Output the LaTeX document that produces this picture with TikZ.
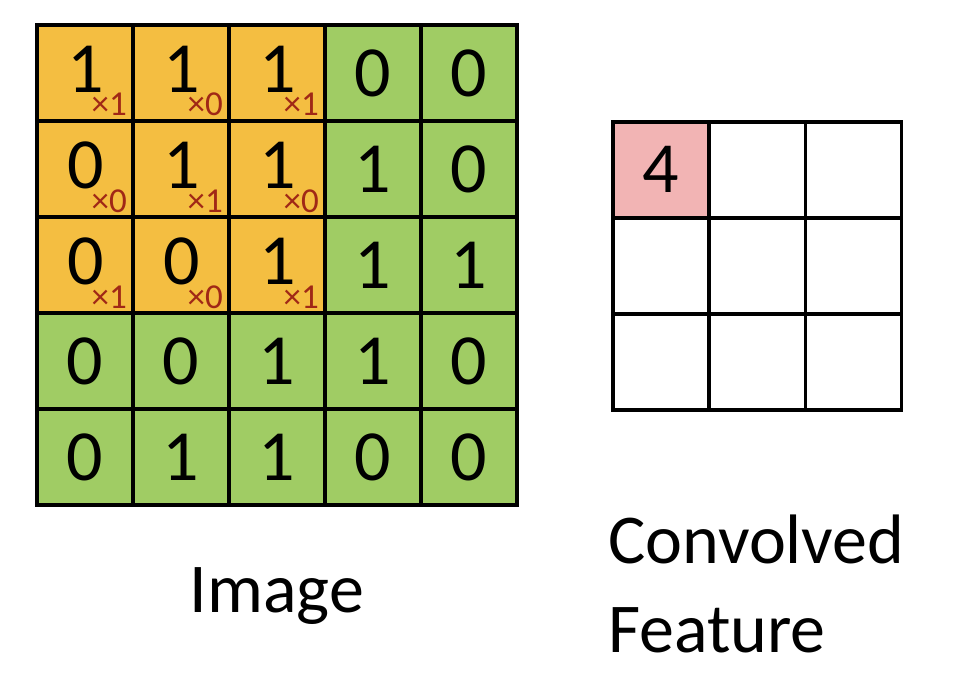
\documentclass[tikz,border=0pt]{standalone}
\usepackage{fontspec}
\setmainfont{Carlito}
\usetikzlibrary{calc}
\definecolor{korange}{RGB}{244,190,65}
\definecolor{kgreen}{RGB}{160,204,100}
\definecolor{kpink}{RGB}{242,180,180}
\definecolor{kred}{RGB}{160,40,22}
\tikzset{
  cellbox/.style={draw=black, line width=3.5pt, minimum size=96pt, inner sep=0pt, outer sep=0pt},
  digit/.style={inner sep=0pt, font=\fontsize{72}{72}\selectfont},
  kernelmark/.style={anchor=base east, inner sep=0pt, text=kred, font=\fontsize{35}{35}\selectfont},
  caption/.style={inner sep=0pt, font=\fontsize{70}{70}\selectfont}
}
\begin{document}
\begin{tikzpicture}[x=1pt,y=-1pt]
\useasboundingbox (0,0) rectangle (974,682);
\fill[white] (0,0) rectangle (974,682);
% image grid values (row by row)
\def\vals{{{1,1,1,0,0},{0,1,1,1,0},{0,0,1,1,1},{0,0,1,1,0},{0,1,1,0,0}}}
\def\kern{{{1,0,1},{0,1,0},{1,0,1}}}
\foreach \r in {0,...,4}{
  \foreach \c in {0,...,4}{
    \pgfmathtruncatemacro{\v}{\vals[\r][\c]}
    \ifnum\r<3 \ifnum\c<3 \def\fc{korange}\else\def\fc{kgreen}\fi\else\def\fc{kgreen}\fi
    \node[cellbox, fill=\fc] (img-\r-\c) at (85+96*\c, 73+96*\r) {};
    \ifnum\r<3 \ifnum\c<3
      \node[digit] (d-\r-\c) at ($(img-\r-\c.center)+(1,-4)$) {\v};
    \else
      \node[digit] (d-\r-\c) at (img-\r-\c.center) {\v};
    \fi\else
      \node[digit] (d-\r-\c) at (img-\r-\c.center) {\v};
    \fi
  }
}
\foreach \r in {0,...,2}{
  \foreach \c in {0,...,2}{
    \pgfmathtruncatemacro{\k}{\kern[\r][\c]}
    \node[kernelmark] (k-\r-\c) at ($(img-\r-\c.south east)+(-6,-5)$) {×\k};
  }
}
% convolved feature grid
\foreach \r in {0,...,2}{
  \foreach \c in {0,...,2}{
    \node[cellbox, fill=white] (out-\r-\c) at (661+96.3*\c, 170+96*\r) {};
  }
}
\node[cellbox, fill=kpink] (out-0-0) at (661,170) {};
\node[digit] (four) at ($(out-0-0.center)+(0,-1)$) {4};
% captions
\node[caption, anchor=base] (imglabel) at (277,612) {Image};
\node[caption, anchor=base west] (convlabel) at (608,563) {Convolved};
\node[caption, anchor=base west] (featlabel) at (608,652) {Feature};
\end{tikzpicture}
\end{document}
